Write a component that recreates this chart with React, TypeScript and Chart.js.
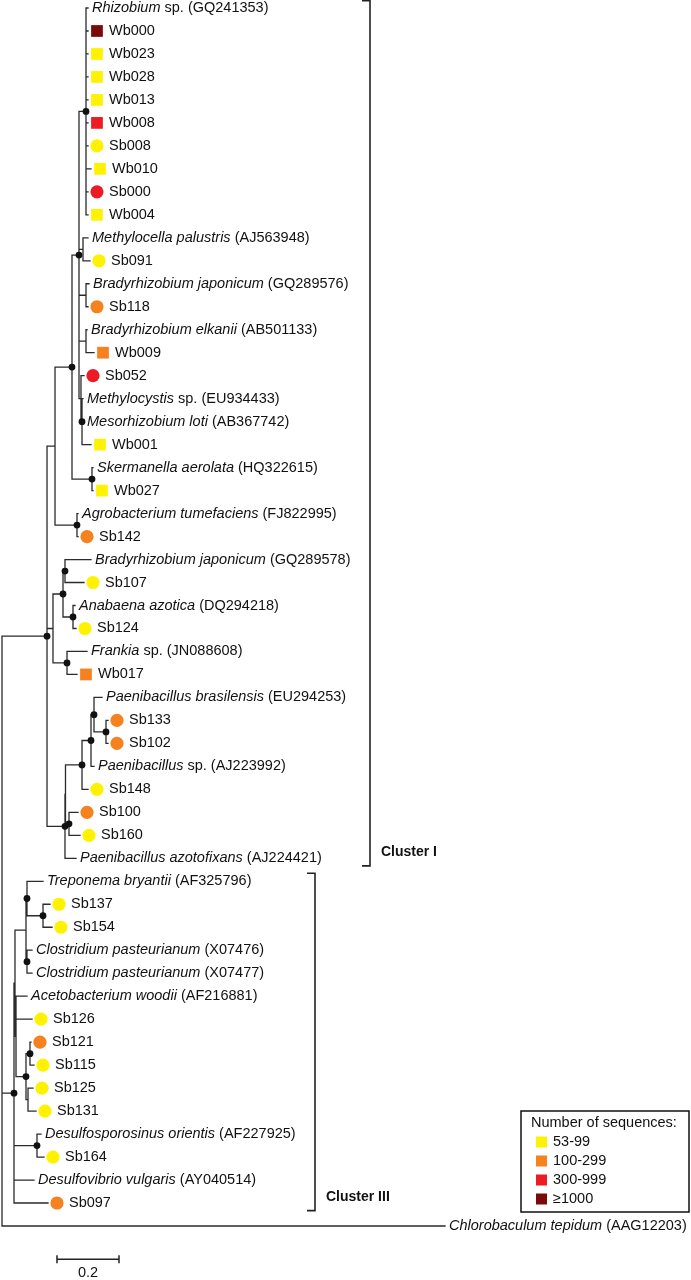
import React, { useEffect, useRef } from 'react';
import { Chart, registerables } from 'chart.js';
Chart.register(...registerables);

// ---------- DATA ----------
// Leaves, top to bottom (row index = position in the arrays)
const leafItalic: string[] = [
  'Rhizobium', '', '', '', '', '', '', '', '', '',
  'Methylocella palustris', '', 'Bradyrhizobium japonicum', '', 'Bradyrhizobium elkanii', '', '',
  'Methylocystis', 'Mesorhizobium loti', '', 'Skermanella aerolata', '', 'Agrobacterium tumefaciens', '',
  'Bradyrhizobium japonicum', '', 'Anabaena azotica', '', 'Frankia', '',
  'Paenibacillus brasilensis', '', '', 'Paenibacillus', '', '', '', 'Paenibacillus azotofixans',
  'Treponema bryantii', '', '', 'Clostridium pasteurianum', 'Clostridium pasteurianum', 'Acetobacterium woodii',
  '', '', '', '', '', 'Desulfosporosinus orientis', '', 'Desulfovibrio vulgaris', '', 'Chlorobaculum tepidum',
];
const leafPlain: string[] = [
  ' sp. (GQ241353)', 'Wb000', 'Wb023', 'Wb028', 'Wb013', 'Wb008', 'Sb008', 'Wb010', 'Sb000', 'Wb004',
  ' (AJ563948)', 'Sb091', ' (GQ289576)', 'Sb118', ' (AB501133)', 'Wb009', 'Sb052',
  ' sp. (EU934433)', ' (AB367742)', 'Wb001', ' (HQ322615)', 'Wb027', ' (FJ822995)', 'Sb142',
  ' (GQ289578)', 'Sb107', ' (DQ294218)', 'Sb124', ' sp. (JN088608)', 'Wb017',
  ' (EU294253)', 'Sb133', 'Sb102', ' sp. (AJ223992)', 'Sb148', 'Sb100', 'Sb160', ' (AJ224421)',
  ' (AF325796)', 'Sb137', 'Sb154', ' (X07476)', ' (X07477)', ' (AF216881)',
  'Sb126', 'Sb121', 'Sb115', 'Sb125', 'Sb131', ' (AF227925)', 'Sb164', ' (AY040514)', 'Sb097', ' (AAG12203)',
];
// branch tip depth (substitutions per site, from root)
const leafTip: number[] = [
  0.2774, 0.2774, 0.2774, 0.2774, 0.2774, 0.2774, 0.2774, 0.2871, 0.2774, 0.2774,
  0.2774, 0.2839, 0.2806, 0.2774, 0.2742, 0.2968, 0.2645,
  0.2613, 0.2613, 0.2871, 0.2935, 0.2935, 0.2452, 0.2452,
  0.2871, 0.2645, 0.2355, 0.2387, 0.2742, 0.2419,
  0.3226, 0.3419, 0.3419, 0.2968, 0.2774, 0.2452, 0.2516, 0.2387,
  0.1323, 0.1548, 0.1613, 0.0968, 0.0968, 0.0806,
  0.0968, 0.0935, 0.1032, 0.1000, 0.1097, 0.1258, 0.1355, 0.1032, 0.1484, 1.4290,
];
// number-of-sequences class (-1 = reference sequence, no marker)
const leafSeqClass: number[] = [
  -1, 3, 0, 0, 0, 2, 0, 0, 2, 0,
  -1, 0, -1, 1, -1, 1, 2,
  -1, -1, 0, -1, 0, -1, 1,
  -1, 0, -1, 0, -1, 1,
  -1, 1, 1, -1, 0, 1, 0, -1,
  -1, 0, 0, -1, -1, -1,
  0, 1, 0, 0, 0, -1, 0, -1, 1, -1,
];
const seqClassLabels: string[] = ['53-99', '100-299', '300-999', '\u22651000'];
const seqClassColors: string[] = ['#FFF200', '#F5821F', '#EC1C24', '#7A0A0A'];

// Internal nodes
const nodeIds: string[] = [
  'root', 'C1', 'Nalpha', 'N362', 'N2', 'P1', 'Meth', 'Brady1', 'Bel', 'N5', 'N4', 'Sk', 'Agro',
  'Nmid', 'N593', 'N572', 'N617', 'Frank', 'Npaeni', 'Z', 'N765', 'N741', 'Bras', 'S133', 'N824',
  'C3', 'E', 'T', 'Trep', 'S137', 'Clos', 'D', 'G', 'H1', 'H2', 'Dsp',
];
const nodeDepth: number[] = [
  0.0, 0.1452, 0.1710, 0.2258, 0.2484, 0.2710, 0.2613, 0.2710, 0.2710, 0.2548, 0.2581, 0.2903, 0.2419,
  0.1645, 0.1968, 0.2032, 0.2290, 0.2097, 0.2032, 0.2048, 0.2581, 0.2871, 0.2968, 0.3355, 0.2161,
  0.0387, 0.0419, 0.0774, 0.0806, 0.1323, 0.0806, 0.0452, 0.0774, 0.0903, 0.0839, 0.1129,
];
const nodeChildren: (string | number)[][] = [
  ['C1', 'C3', 53],
  ['Nalpha', 'Nmid', 'Npaeni'],
  ['N362', 'Agro'],
  ['N2', 'Sk'],
  ['P1', 'Meth', 'Brady1', 'Bel', 'N5'],
  [0, 1, 2, 3, 4, 5, 6, 7, 8, 9],
  [10, 11],
  [12, 13],
  [14, 15],
  [16, 'N4'],
  [17, 18, 19],
  [20, 21],
  [22, 23],
  ['N593', 'Frank'],
  ['N572', 'N617'],
  [24, 25],
  [26, 27],
  [28, 29],
  ['Z', 37],
  ['N765', 'N824'],
  ['N741', 34],
  ['Bras', 33],
  [30, 'S133'],
  [31, 32],
  [35, 36],
  ['E', 'Dsp', 51, 52],
  ['T', 'D'],
  ['Trep', 'Clos'],
  [38, 'S137'],
  [39, 40],
  [41, 42],
  [43, 44, 'G'],
  ['H1', 'H2'],
  [45, 46],
  [47, 48],
  [49, 50],
];
const nodeSupported: boolean[] = [
  false, true, false, true, true, true, false, false, false, false, true, true, true,
  false, true, true, true, true, true, false, true, true, true, true, true,
  true, false, false, true, true, true, false, true, true, false, true,
];

const clusterNames: string[] = ['Cluster I', 'Cluster III'];
const clusterFirstLeaf: number[] = [0, 38];
const clusterLastLeaf: number[] = [37, 52];

const legendTitle = 'Number of sequences:';
const scaleBarLength = 0.2;
const scaleBarText = '0.2';

// ---------- LAYOUT / STYLE ----------
const W = 691;
const H = 1280;
const FONT = '"Liberation Sans", Arial, sans-serif';
const FS = 14.5;
const LINE_COLOR = '#2b2b2b';
const TEXT_COLOR = '#111111';
const MARKER_GAP = 0.029; // distance between branch tip and marker centre (units)

function layoutTree() {
  const idx = new Map<string, number>();
  nodeIds.forEach((id, i) => idx.set(id, i));
  const nodeY: number[] = new Array(nodeIds.length).fill(NaN);
  const yOf = (c: string | number): number => {
    if (typeof c === 'number') return c;
    const k = idx.get(c) as number;
    if (isNaN(nodeY[k])) {
      const ys = nodeChildren[k].map(yOf);
      nodeY[k] = (ys[0] + ys[ys.length - 1]) / 2;
    }
    return nodeY[k];
  };
  const xOf = (c: string | number): number =>
    typeof c === 'number' ? leafTip[c] : nodeDepth[idx.get(c) as number];
  nodeIds.forEach((id) => yOf(id));

  const segs: { x: number; y: number | null }[] = [];
  nodeIds.forEach((id, k) => {
    const ch = nodeChildren[k];
    const ys = ch.map(yOf);
    const x0 = nodeDepth[k];
    segs.push({ x: x0, y: Math.min(...ys) }, { x: x0, y: Math.max(...ys) }, { x: x0, y: null });
    ch.forEach((c, j) => {
      segs.push({ x: x0, y: ys[j] }, { x: xOf(c), y: ys[j] }, { x: xOf(c), y: null });
    });
  });
  const dots = nodeIds
    .map((id, k) => ({ x: nodeDepth[k], y: nodeY[k], s: nodeSupported[k] }))
    .filter((d) => d.s)
    .map((d) => ({ x: d.x, y: d.y }));
  return { segs, dots };
}

const textPlugin = {
  id: 'treeText',
  afterDatasetsDraw(chart: any) {
    const ctx: CanvasRenderingContext2D = chart.ctx;
    const xs = chart.scales.x;
    const ys = chart.scales.y;
    ctx.save();
    ctx.textBaseline = 'middle';
    ctx.fillStyle = TEXT_COLOR;

    // leaf labels
    leafPlain.forEach((plain, i) => {
      const y = ys.getPixelForValue(i);
      const hasMarker = leafSeqClass[i] >= 0;
      let x = hasMarker
        ? xs.getPixelForValue(leafTip[i] + MARKER_GAP) + 12
        : xs.getPixelForValue(leafTip[i]) + 4;
      const it = leafItalic[i];
      if (it) {
        ctx.font = `italic ${FS}px ${FONT}`;
        ctx.fillText(it, x, y);
        x += ctx.measureText(it).width;
      }
      ctx.font = `${FS}px ${FONT}`;
      ctx.fillText(plain, x, y);
    });

    // cluster brackets
    const bracketX = [370, 315];
    ctx.strokeStyle = '#222';
    ctx.lineWidth = 1.6;
    clusterNames.forEach((name, c) => {
      const bx = bracketX[c];
      const yTop = Math.max(ys.getPixelForValue(clusterFirstLeaf[c] - 0.35), 0.8);
      const yBot = ys.getPixelForValue(clusterLastLeaf[c] + 0.33);
      ctx.beginPath();
      ctx.moveTo(bx - 8, yTop);
      ctx.lineTo(bx, yTop);
      ctx.lineTo(bx, yBot);
      ctx.lineTo(bx - 8, yBot);
      ctx.stroke();
      ctx.font = `bold 14px ${FONT}`;
      ctx.fillText(name, bx + 11, ys.getPixelForValue(clusterLastLeaf[c]) - 6);
    });

    // legend
    const lx = 521, ly = 1111, lw = 168, lh = 101;
    ctx.lineWidth = 1.5;
    ctx.strokeStyle = '#111';
    ctx.strokeRect(lx, ly, lw, lh);
    ctx.font = `${FS}px ${FONT}`;
    ctx.fillText(legendTitle, lx + 10, ly + 12);
    seqClassLabels.forEach((lab, k) => {
      const yy = ly + 31 + k * 19;
      ctx.fillStyle = seqClassColors[k];
      ctx.fillRect(lx + 15, yy - 5.5, 11, 11);
      ctx.fillStyle = TEXT_COLOR;
      ctx.fillText(lab, lx + 32, yy);
    });

    // scale bar
    const sx0 = xs.getPixelForValue(0.1774);
    const sx1 = xs.getPixelForValue(0.1774 + scaleBarLength);
    const sy = ys.getPixelForValue(54.45);
    ctx.strokeStyle = '#222';
    ctx.lineWidth = 1.5;
    ctx.beginPath();
    ctx.moveTo(sx0, sy - 4);
    ctx.lineTo(sx0, sy + 4);
    ctx.moveTo(sx0, sy);
    ctx.lineTo(sx1, sy);
    ctx.moveTo(sx1, sy - 4);
    ctx.lineTo(sx1, sy + 4);
    ctx.stroke();
    ctx.textAlign = 'center';
    ctx.fillText(scaleBarText, (sx0 + sx1) / 2, sy + 14);
    ctx.restore();
  },
};

export default function App() {
  const ref = useRef<HTMLCanvasElement | null>(null);
  useEffect(() => {
    if (!ref.current) return;
    const { segs, dots } = layoutTree();
    const markerIdx = leafSeqClass.map((c, i) => (c >= 0 ? i : -1)).filter((i) => i >= 0);
    const markerData = markerIdx.map((i) => ({ x: leafTip[i] + MARKER_GAP, y: i }));
    const markerStyle = markerIdx.map((i) => (leafPlain[i].startsWith('Wb') ? 'rect' : 'circle'));
    const markerRadius = markerIdx.map((i) => (leafPlain[i].startsWith('Wb') ? 8.3 : 6.6));
    const markerColor = markerIdx.map((i) => seqClassColors[leafSeqClass[i]]);

    const chart = new Chart(ref.current, {
      type: 'scatter',
      data: {
        datasets: [
          {
            type: 'scatter',
            data: dots,
            pointRadius: 3.4,
            pointBackgroundColor: '#111',
            pointBorderWidth: 0,
            order: 1,
            clip: false,
          } as any,
          {
            type: 'scatter',
            data: markerData,
            pointStyle: markerStyle,
            pointRadius: markerRadius,
            pointBackgroundColor: markerColor,
            pointBorderWidth: 0,
            order: 2,
            clip: false,
          } as any,
          {
            type: 'line',
            data: segs,
            borderColor: LINE_COLOR,
            borderWidth: 1.3,
            borderCapStyle: 'square',
            pointRadius: 0,
            spanGaps: false,
            tension: 0,
            fill: false,
            order: 3,
            clip: false,
          } as any,
        ],
      },
      options: {
        animation: false,
        responsive: false,
        devicePixelRatio: 1,
        events: [],
        layout: { padding: 0, autoPadding: false },
        plugins: { legend: { display: false }, tooltip: { enabled: false } },
        scales: {
          x: { type: 'linear', display: false, min: -2 / 310, max: 689 / 310, bounds: 'data' },
          y: { type: 'linear', display: false, reverse: true, min: -0.348, max: 55.35, bounds: 'data' },
        },
      },
      plugins: [textPlugin],
    } as any);
    return () => chart.destroy();
  }, []);
  return (
    <div style={{ position: 'absolute', left: 0, top: 0, width: W, height: H, background: '#fff' }}>
      <canvas ref={ref} width={W} height={H} style={{ display: 'block' }} />
    </div>
  );
}
